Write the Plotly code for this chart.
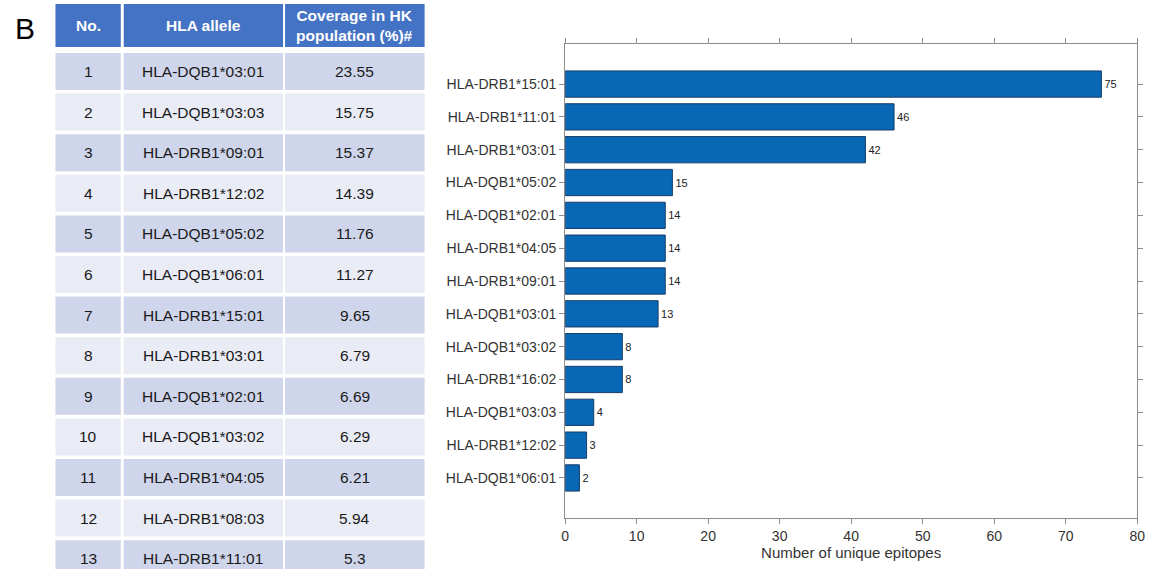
import plotly.graph_objects as go

# ---- Table data (HLA allele coverage in the HK population) ----
table_no = ["1", "2", "3", "4", "5", "6", "7", "8", "9", "10", "11", "12", "13"]
table_alleles = [
    "HLA-DQB1*03:01", "HLA-DQB1*03:03", "HLA-DRB1*09:01", "HLA-DRB1*12:02",
    "HLA-DQB1*05:02", "HLA-DQB1*06:01", "HLA-DRB1*15:01", "HLA-DRB1*03:01",
    "HLA-DQB1*02:01", "HLA-DQB1*03:02", "HLA-DRB1*04:05", "HLA-DRB1*08:03",
    "HLA-DRB1*11:01",
]
table_coverage = ["23.55", "15.75", "15.37", "14.39", "11.76", "11.27", "9.65",
                  "6.79", "6.69", "6.29", "6.21", "5.94", "5.3"]
table_headers = ["No.", "HLA allele", "Coverage in HK<br>population (%)#"]

# ---- Bar chart data (top to bottom) ----
chart_alleles = [
    "HLA-DRB1*15:01", "HLA-DRB1*11:01", "HLA-DRB1*03:01", "HLA-DQB1*05:02",
    "HLA-DQB1*02:01", "HLA-DRB1*04:05", "HLA-DRB1*09:01", "HLA-DQB1*03:01",
    "HLA-DQB1*03:02", "HLA-DRB1*16:02", "HLA-DQB1*03:03", "HLA-DRB1*12:02",
    "HLA-DQB1*06:01",
]
unique_epitopes = [75, 46, 42, 15, 14, 14, 14, 13, 8, 8, 4, 3, 2]

W, H = 1161, 569
FONT = "Arial, Liberation Sans, Helvetica, sans-serif"


def px(x):
    return x / W


def py(y):
    return 1 - y / H


fig = go.Figure()

fig.add_trace(go.Bar(
    x=unique_epitopes,
    y=chart_alleles,
    orientation="h",
    width=0.8,
    marker=dict(color="#0868b6", line=dict(color="#173c68", width=1)),
    text=[str(v) for v in unique_epitopes],
    textposition="outside",
    textfont=dict(family=FONT, size=11, color="#222222"),
    cliponaxis=False,
    showlegend=False,
    hoverinfo="x+y",
))

axis_col = "#8c8c8c"
fig.update_xaxes(
    domain=[px(567), px(1145)],
    range=[0, 80],
    tickvals=[0, 10, 20, 30, 40, 50, 60, 70, 80],
    showline=True, linecolor=axis_col, linewidth=1, mirror="ticks",
    ticks="outside", ticklen=5, tickcolor=axis_col,
    showgrid=False, zeroline=False,
    tickfont=dict(family=FONT, size=14, color="#333333"),
    title=dict(text="Number of unique epitopes", standoff=2,
               font=dict(family=FONT, size=15, color="#333333")),
)
fig.update_yaxes(
    domain=[py(518), py(44)],
    categoryorder="array",
    categoryarray=chart_alleles[::-1],
    range=[-1.22, 13.22],
    showline=True, linecolor=axis_col, linewidth=1, mirror="ticks",
    ticks="outside", ticklen=5, tickcolor=axis_col,
    showgrid=False, zeroline=False,
    tickfont=dict(family=FONT, size=14, color="#333333"),
)

# ---- Table built from shapes and annotations ----
shapes = []
annotations = []
col_edges = [(52, 118), (121, 282), (284, 425)]
header_top, header_bot = 4, 47
row_top0, row_pitch, row_h = 53, 40.6, 37

for (x0, x1), head in zip(col_edges, table_headers):
    shapes.append(dict(type="rect", xref="paper", yref="paper",
                       x0=px(x0), x1=px(x1), y0=py(header_bot), y1=py(header_top),
                       fillcolor="#4472c4", line=dict(width=0), layer="below"))
    annotations.append(dict(xref="paper", yref="paper", x=px((x0 + x1) / 2),
                            y=py((header_top + header_bot) / 2),
                            text=f"<b>{head}</b>", showarrow=False,
                            xanchor="center", yanchor="middle",
                            font=dict(family=FONT, size=15.5, color="white")))

for i, row in enumerate(zip(table_no, table_alleles, table_coverage)):
    top = row_top0 + i * row_pitch
    bot = top + row_h
    fill = "#cfd5ea" if i % 2 == 0 else "#e9ebf5"
    for (x0, x1), val in zip(col_edges, row):
        shapes.append(dict(type="rect", xref="paper", yref="paper",
                           x0=px(x0), x1=px(x1), y0=py(bot), y1=py(top),
                           fillcolor=fill, line=dict(width=0), layer="below"))
        annotations.append(dict(xref="paper", yref="paper", x=px((x0 + x1) / 2),
                                y=py((top + bot) / 2), text=val, showarrow=False,
                                xanchor="center", yanchor="middle",
                                font=dict(family=FONT, size=15.5, color="#1a1a1a")))

# Panel letter
annotations.append(dict(xref="paper", yref="paper", x=px(21), y=py(29),
                        text="B", showarrow=False, xanchor="center", yanchor="middle",
                        font=dict(family=FONT, size=30, color="#000000")))

fig.update_layout(
    width=W, height=H,
    margin=dict(l=0, r=0, t=0, b=0),
    paper_bgcolor="white", plot_bgcolor="white",
    shapes=shapes, annotations=annotations,
    bargap=0.2,
)

fig.write_html("out.html")
